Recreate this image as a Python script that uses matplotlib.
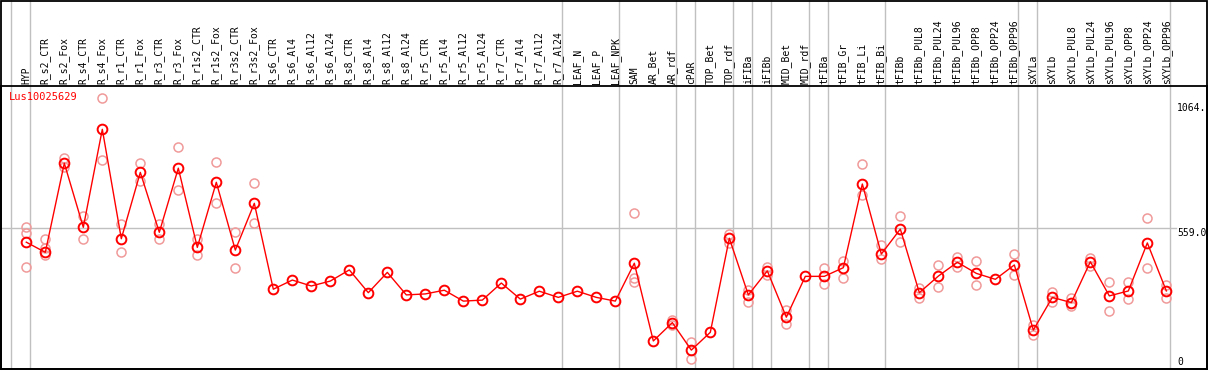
import numpy as np
import matplotlib
matplotlib.use("Agg")
import matplotlib.pyplot as plt
from matplotlib import transforms

# sample labels, left to right
samples = [
    "HYP", "R_s2_CTR", "R_s2_Fox", "R_s4_CTR", "R_s4_Fox", "R_r1_CTR", "R_r1_Fox",
    "R_r3_CTR", "R_r3_Fox", "R_r1s2_CTR", "R_r1s2_Fox", "R_r3s2_CTR", "R_r3s2_Fox",
    "R_s6_CTR", "R_s6_Al4", "R_s6_Al12", "R_s6_Al24", "R_s8_CTR", "R_s8_Al4",
    "R_s8_Al12", "R_s8_Al24", "R_r5_CTR", "R_r5_Al4", "R_r5_Al12", "R_r5_Al24",
    "R_r7_CTR", "R_r7_Al4", "R_r7_Al12", "R_r7_Al24", "LEAF_N", "LEAF_P", "LEAF_NPK",
    "SAM", "AR_Bet", "AR_rdf", "cPAR", "TOP_Bet", "TOP_rdf", "iFIBa", "iFIBb",
    "MID_Bet", "MID_rdf", "tFIBa", "tFIB_Gr", "tFIB_Li", "tFIB_Bi", "tFIBb",
    "tFIBb_PUL8", "tFIBb_PUL24", "tFIBb_PUL96", "tFIBb_OPP8", "tFIBb_OPP24",
    "tFIBb_OPP96", "sXYLa", "sXYLb", "sXYLb_PUL8", "sXYLb_PUL24", "sXYLb_PUL96",
    "sXYLb_OPP8", "sXYLb_OPP24", "sXYLb_OPP96",
]

# mean expression per sample
means = [
    503, 462, 822, 563, 959, 517, 785, 543, 802, 482, 745, 471, 660,
    313, 350, 326, 346, 391, 299, 381, 290, 294, 309, 265, 269,
    338, 273, 305, 280, 305, 280, 265,
    418, 104, 178, 67, 139, 519, 290, 387, 200, 365, 365, 400, 738, 455, 556,
    299, 366, 422, 377, 353, 411,
    148, 280, 259, 424, 286, 306, 500, 306,
]

nan = np.nan
# replicate values (nan = hidden behind the mean marker)
rep_hi = [
    564, 478, 844, 609, 1084, 577, 822, 577, 886, 517, 826, 546, 741,
    nan, nan, nan, nan, nan, nan, nan, nan, nan, nan, nan, nan,
    nan, nan, nan, nan, nan, nan, nan,
    620, nan, 189, 101, nan, 536, 310, 404, 229, nan, 397, 427, 818, 492, 609,
    317, 411, 442, 427, nan, 455,
    168, 303, 276, 438, 342, 342, 600, 330,
]
rep_lo = [
    403, 450, 805, 517, 834, 462, 752, 517, 713, 450, 660, 397, 579,
    nan, nan, nan, nan, nan, nan, nan, nan, nan, nan, nan, nan,
    nan, nan, nan, nan, nan, nan, nan,
    342, nan, 168, 30, nan, 501, 263, 370, 171, nan, 333, 357, 694, 435, 503,
    276, 321, 404, 330, nan, 370,
    128, 260, 245, 408, 226, 273, 397, 276,
]
rep_extra = [541, 516] + [nan] * 30 + [360] + [nan] * 28

# first sample of each group (vertical separators)
group_starts = [0, 1, 29, 32, 35, 36, 38, 39, 40, 42, 43, 46, 53, 54, 61]

y_ticks = [1064, 559, 0]
y_tick_labels = ["1064.", "559.0", "0"]

fig = plt.figure(figsize=(12.09, 3.70), dpi=100)
W, H = 1209, 370
ax = fig.add_axes([1 / W, 1.5 / H, 1206 / W, 283 / H])

x = np.arange(len(samples))
ax.set_xlim(-1.332, 62.14)
ax.set_ylim(-7.3, 1136)
ax.set_xticks([])
ax.set_yticks([])
for s in ax.spines.values():
    s.set_linewidth(1.3)
    s.set_color("black")

# separators run through the label band as well
for g in group_starts:
    ax.axvline(g - 0.8, ymin=0, ymax=1.31, color="#c0c0c0", lw=1, clip_on=False, zorder=0)
ax.axhline(559, xmin=0, xmax=0.974, color="#c0c0c0", lw=1, zorder=0)

pink = "#f09a9a"
for reps in (rep_hi, rep_lo, rep_extra):
    ax.plot(x, reps, ls="none", marker="o", ms=6.5, mfc="none", mec=pink, mew=1.1, zorder=2)

ax.plot(x, means, color="red", lw=1, zorder=3)
ax.plot(x, means, ls="none", marker="o", ms=7, mfc="none", mec="red", mew=1.4, zorder=4)

# rotated sample labels above the plot
lab_tr = transforms.blended_transform_factory(ax.transData, ax.transAxes)
for i, name in enumerate(samples):
    ax.text(i, 1 + 2 / 283, name, rotation=90, ha="center", va="bottom",
            transform=lab_tr, fontsize=7, family="DejaVu Sans Mono", clip_on=False)

# value labels on the right
val_tr = transforms.blended_transform_factory(ax.transAxes, ax.transData)
for v, t in zip(y_ticks, y_tick_labels):
    ax.text((1177 - 1) / 1206, v, t, ha="left", va="bottom" if v == 0 else "top",
            transform=val_tr, fontsize=7, family="DejaVu Sans Mono")

fig.text(9 / W, 1 - 97 / H, "Lus10025629", color="red", fontsize=7.5,
         family="DejaVu Sans Mono", va="center", ha="left")

# outer frame of the whole picture
fig.add_artist(plt.Rectangle((0.6 / W, 0.6 / H), 1206.4 / W, 368.8 / H, fill=False,
                             lw=1.3, ec="black", transform=fig.transFigure))

fig.savefig("out.png", dpi=100)
